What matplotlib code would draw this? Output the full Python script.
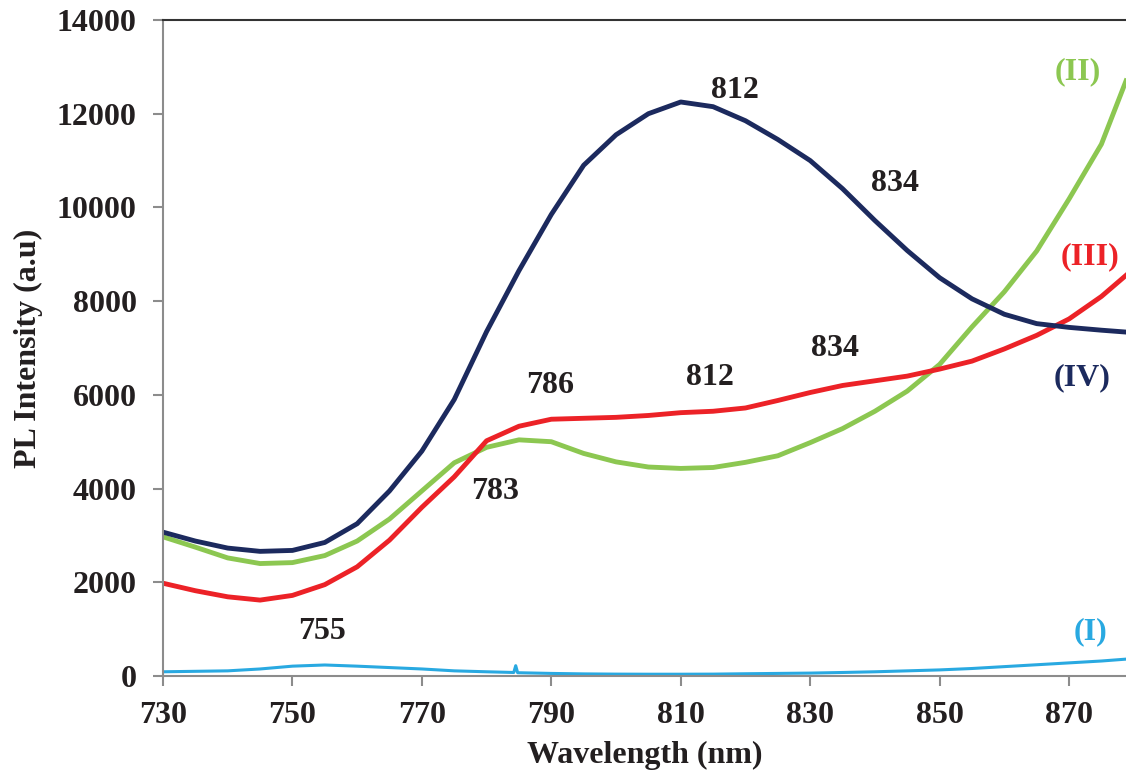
import matplotlib
matplotlib.use('Agg')
import matplotlib.pyplot as plt

# wavelength grid (nm)
wl = [730, 735, 740, 745, 750, 755, 760, 765, 770, 775, 780, 785, 790, 795, 800,
      805, 810, 815, 820, 825, 830, 835, 840, 845, 850, 855, 860, 865, 870, 875, 878.8]

pl_IV = [3070, 2880, 2730, 2660, 2680, 2850, 3250, 3950, 4800, 5900, 7350, 8650, 9850, 10900, 11550,
         12000, 12250, 12150, 11850, 11450, 11000, 10400, 9720, 9080, 8500, 8050, 7720, 7520, 7440, 7380, 7340]
pl_II = [2970, 2750, 2520, 2400, 2420, 2570, 2880, 3350, 3950, 4550, 4880, 5040, 5000, 4750, 4570,
         4460, 4430, 4450, 4560, 4700, 4980, 5280, 5650, 6080, 6650, 7450, 8200, 9070, 10180, 11350, 12700]
pl_III = [1980, 1820, 1690, 1620, 1720, 1950, 2330, 2900, 3600, 4250, 5020, 5330, 5480, 5500, 5520,
          5560, 5620, 5650, 5720, 5880, 6050, 6200, 6300, 6400, 6550, 6720, 6980, 7270, 7620, 8100, 8550]

wl_I = [730, 735, 740, 745, 750, 755, 760, 765, 770, 775, 780, 784.2, 784.5, 784.8, 790, 795, 800,
        805, 810, 815, 820, 825, 830, 835, 840, 845, 850, 855, 860, 865, 870, 875, 878.8]
pl_I = [90, 100, 110, 150, 210, 235, 210, 180, 150, 110, 90, 75, 220, 70, 55, 45, 40,
        38, 38, 40, 48, 55, 62, 75, 90, 110, 130, 160, 200, 240, 280, 320, 360]

# peak labels
peak_txt = ['812', '834', '786', '812', '834', '783', '755']
peak_x = [818.4, 843.1, 789.8, 814.5, 833.9, 781.3, 754.6]
peak_y = [12500, 10520, 6210, 6360, 7000, 3930, 940]

# curve names
names = ['(I)', '(II)', '(III)', '(IV)']
name_x = [873.3, 871.4, 873.3, 872.0]
name_y = [940, 12890, 8940, 6360]

c_I = '#29a9e1'
c_II = '#8cc751'
c_III = '#ec2227'
c_IV = '#1c2a5e'
name_cols = [c_I, c_II, c_III, c_IV]

plt.rcParams['font.family'] = ['Liberation Serif', 'DejaVu Serif']
plt.rcParams['font.weight'] = 'bold'

fig = plt.figure(figsize=(11.26, 7.76), dpi=100)
ax = fig.add_axes([163/1126, 100/776, 963/1126, 656/776])

ax.plot(wl_I, pl_I, color=c_I, lw=2.2)
ax.plot(wl, pl_II, color=c_II, lw=3.5)
ax.plot(wl, pl_III, color=c_III, lw=3.5)
ax.plot(wl, pl_IV, color=c_IV, lw=3.5)

for t, x, y in zip(peak_txt, peak_x, peak_y):
    ax.text(x, y, t, ha='center', va='center', fontsize=23, fontweight='bold', color='#231f20')
for t, x, y, c in zip(names, name_x, name_y, name_cols):
    ax.text(x, y, t, ha='center', va='center', fontsize=23, fontweight='bold', color=c)

ax.set_xlim(730, 878.8)
ax.set_ylim(0, 14000)
ax.set_xticks(range(730, 871, 20))
ax.set_yticks(range(0, 14001, 2000))

ax.spines['right'].set_visible(False)
ax.spines['left'].set_color('#8c8c8c')
ax.spines['bottom'].set_color('#8c8c8c')
ax.spines['left'].set_linewidth(1.5)
ax.spines['bottom'].set_linewidth(1.5)
ax.spines['top'].set_color('#333333')
ax.spines['top'].set_linewidth(1.5)

ax.tick_params(axis='both', direction='out', color='#8c8c8c', width=1.5, length=7,
               labelsize=23, labelcolor='#231f20')
ax.tick_params(axis='y', pad=12)
ax.tick_params(axis='x', pad=11)
for lab in ax.get_xticklabels() + ax.get_yticklabels():
    lab.set_fontweight('bold')

ax.set_xlabel('Wavelength (nm)', fontsize=23, fontweight='bold', color='#231f20', labelpad=8)
ax.set_ylabel('PL Intensity (a.u)', fontsize=23, fontweight='bold', color='#231f20', labelpad=10)

fig.savefig('out.png', dpi=100)
